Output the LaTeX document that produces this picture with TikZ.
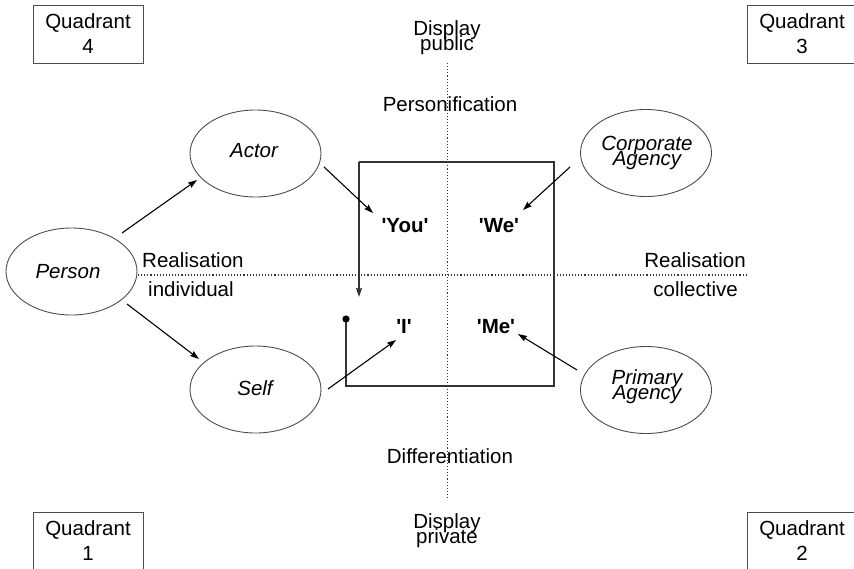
\documentclass[tikz,border=0pt]{standalone}
\usepackage{fontspec}
\setmainfont{Liberation Sans}[Ligatures=TeXOff]
\usetikzlibrary{shapes.geometric,arrows.meta}
\newcommand{\tightlines}{\fontsize{20.5}{15}\selectfont\lineskiplimit=-100pt\lineskip=0pt}
\begin{document}
\begin{tikzpicture}[x=1pt,y=-1pt,
  every node/.style={font=\tightlines, inner sep=0pt},
  quadbox/.style={draw=black!70, line width=1pt, minimum width=110pt, minimum height=58pt},
  quadtxt/.style={anchor=base, align=center, font=\fontsize{20.5}{25}\selectfont},
  oval/.style={draw=black!70, line width=0.9pt, ellipse, minimum width=131pt, minimum height=87pt},
  lab/.style={anchor=base, font=\tightlines\itshape, align=center},
  pron/.style={anchor=base, font=\tightlines\bfseries},
  txt/.style={anchor=base, align=center},
  axis/.style={dotted, line width=1.1pt, black!80},
  arr/.style={-{Stealth[length=9pt,width=6pt,inset=1pt]}, line width=1.1pt},
  sq/.style={line width=1.4pt, black!80}
]
\useasboundingbox (0,0) rectangle (854,568);
\clip (0,0) rectangle (854,568);

% axes
\coordinate (vt) at (447.5,63);
\coordinate (vb) at (447.5,500);
\coordinate (hl) at (138,275);
\coordinate (hr) at (748,275);
\draw[axis] (vt) -- (vb);
\draw[axis] (hl) -- (hr);

% quadrant boxes
\node[quadbox] (q4) at (88,34) {};
\node[quadbox] (q3) at (802,34) {};
\node[quadbox] (q1) at (88,541) {};
\node[quadbox] (q2) at (802,541) {};
\node[quadtxt] (q4t) at (88,53) {Quadrant\\4};
\node[quadtxt] (q3t) at (802,53) {Quadrant\\3};
\node[quadtxt] (q1t) at (88,560) {Quadrant\\1};
\node[quadtxt] (q2t) at (802,560) {Quadrant\\2};

% axis texts
\node[txt] (dpub) at (447,50) {Display\\public};
\node[txt] (pers) at (450,111) {Personification};
\node[txt] (diff) at (450,463) {Differentiation};
\node[txt] (dpri) at (447,543) {Display\\private};
\node[anchor=base west] (realL) at (142,267) {Realisation};
\node[anchor=base west] (indiv) at (148,296) {individual};
\node[anchor=base east] (realR) at (746,267) {Realisation};
\node[anchor=base east] (coll) at (738,296) {collective};

% ellipses
\node[oval] (person) at (71.5,271.5) {};
\node[oval] (actor) at (255.5,153.5) {};
\node[oval] (self) at (255.5,389.5) {};
\node[oval] (corp) at (646,153) {};
\node[oval] (prim) at (646,390) {};
\node[lab] (tperson) at (68,278) {Person};
\node[lab] (tactor) at (254,157) {Actor};
\node[lab] (tself) at (255,395) {Self};
\node[lab] (tcorp) at (647,165) {Corporate\\Agency};
\node[lab] (tprim) at (647,399) {Primary\\Agency};

% pronouns
\node[pron] (you) at (405,232) {'You'};
\node[pron] (we) at (499,232) {'We'};
\node[pron] (i) at (404,333) {'I'};
\node[pron] (me) at (496,333) {'Me'};

% square
\coordinate (dot) at (346,319);
\coordinate (sqbl) at (346,386);
\coordinate (sqbr) at (554,386);
\coordinate (sqtr) at (554,162);
\coordinate (sqtl) at (359,162);
\coordinate (sqtip) at (359,297);
\draw[sq] (dot) -- (sqbl) -- (sqbr) -- (sqtr) -- (sqtl);
\draw[sq, arr, line width=1.4pt] (sqtl) -- (sqtip);
\fill[black] (dot) circle (3.6);

% arrows
\coordinate (pa1) at (122,233); \coordinate (pa2) at (197,180);
\coordinate (ps1) at (127,304); \coordinate (ps2) at (199,359);
\coordinate (ay1) at (324,167); \coordinate (ay2) at (373,213);
\coordinate (cw1) at (570,167); \coordinate (cw2) at (523,210);
\coordinate (si1) at (328,389); \coordinate (si2) at (396,340);
\coordinate (pm1) at (577,370); \coordinate (pm2) at (518,334);
\draw[arr] (pa1) -- (pa2);
\draw[arr] (ps1) -- (ps2);
\draw[arr] (ay1) -- (ay2);
\draw[arr] (cw1) -- (cw2);
\draw[arr] (si1) -- (si2);
\draw[arr] (pm1) -- (pm2);
\end{tikzpicture}
\end{document}
